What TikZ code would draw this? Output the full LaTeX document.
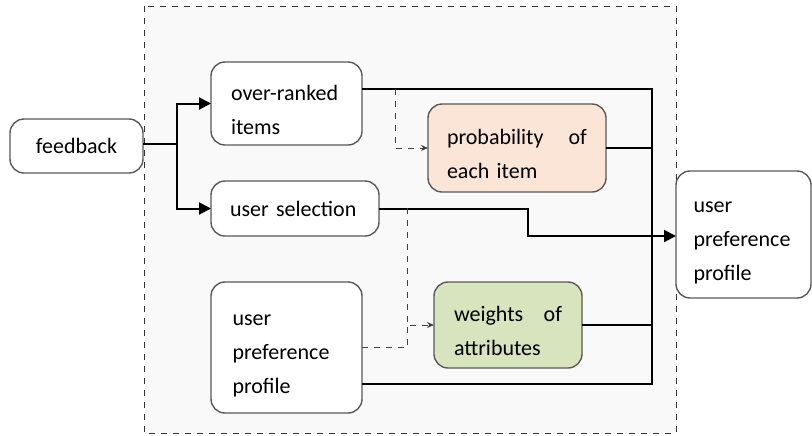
\documentclass[tikz,border=0pt]{standalone}
\usepackage{fontspec}
\setmainfont{Carlito}
\usepackage{tikz}
\usetikzlibrary{arrows.meta}
\usetikzlibrary{calc}

\definecolor{boxline}{HTML}{595959}
\definecolor{peach}{HTML}{FBE5D6}
\definecolor{sage}{HTML}{D7E4BD}
\definecolor{panel}{HTML}{F9F9F9}

\begin{document}
\begin{tikzpicture}[x=0.5pt,y=-0.5pt,inner sep=0pt,outer sep=0pt,
  font=\fontsize{11}{17}\selectfont,
  infobox/.style={draw=boxline,line width=0.7pt,rounded corners=7pt,fill=white,align=left},
  lowered/.style={execute at begin node={\rule{0pt}{14pt}}},
  flow/.style={line width=1pt,black},
  flowarrow/.style={flow,-{Triangle[length=6pt,width=6pt]}},
  hint/.style={dashed,line width=0.5pt,black!75},
  hintarrow/.style={hint,-{Stealth[length=3.5pt,width=3pt]}}]
\useasboundingbox (0,0) rectangle (812,435);
\draw[dashed,line width=0.5pt,black!80,fill=panel] (144,6) rectangle (676,433);

\node[infobox,minimum width=66.5pt,minimum height=27pt,align=center,yshift=-1pt] (fb) at (76.5,144) {feedback};
\node[infobox,lowered,minimum width=75.5pt,minimum height=41.5pt,text width=55.5pt] (ovr) at (286.5,103.5) {over-ranked\\items};
\node[infobox,minimum width=84pt,minimum height=27.5pt,text width=65pt] (sel) at (295,208.5) {user selection};
\node[infobox,lowered,fill=peach,minimum width=89pt,minimum height=44pt,text width=70pt] (prob) at (517,148) {probability\hspace{\fill}of\\each item};
\node[infobox,lowered,fill=sage,minimum width=74pt,minimum height=43pt,text width=54pt] (wgt) at (508,325) {weights\hspace{\fill}of\\attributes};
\node[infobox,lowered,minimum width=75.5pt,minimum height=65.5pt,text width=54pt] (prof) at (286.5,347.5) {user\\preference\\profile};
\node[infobox,lowered,minimum width=67.5pt,minimum height=63.5pt,text width=50pt] (out) at (743.5,234.5) {user\\preference\\profile};

% solid connections
\coordinate (split) at (177,144);
\coordinate (bustop) at (652,89);
\coordinate (busbot) at (652,384);
\coordinate (bend) at (528,236);
\draw[flow] (fb.east |- split) -- (split);
\draw[flowarrow] (split) |- (ovr.west);
\draw[flowarrow] (split) |- (sel.west);
\draw[flow] (ovr.east |- bustop) -- (bustop) -- (busbot) -- (prof.east |- busbot);
\draw[flow] (prob.east) -- (prob.east -| bustop);
\draw[flow] (wgt.east) -- (wgt.east -| bustop);
\draw[flowarrow] (sel.east) -| (bend) -- (out.west |- bend);

% dashed hints
\coordinate (tap1) at (395,89);
\coordinate (tap2) at (407,208);
\draw[hintarrow] (tap1) |- (prob.west);
\draw[hintarrow] (tap2) |- (wgt.west);
\draw[hint] (prof.east) -| (tap2 |- wgt.west);

\end{tikzpicture}
\end{document}
